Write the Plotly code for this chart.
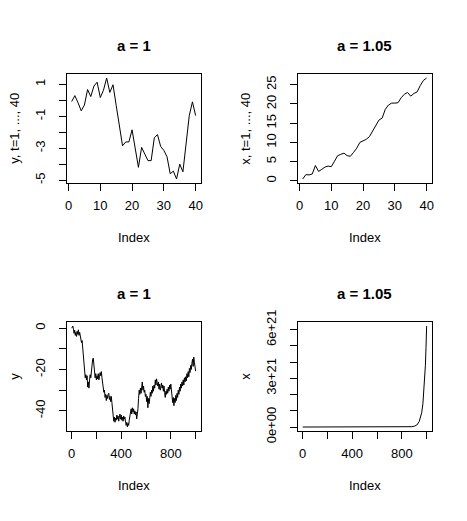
import plotly.graph_objects as go

# ---------------- data ----------------
idx40 = list(range(1, 41))
y40 = [-0.07, 0.30, -0.15, -0.65, -0.29, 0.68, 0.24, 0.90, 1.14, 0.18,
       0.64, 1.40, 0.50, 0.98, -0.31, -1.45, -2.84, -2.60, -2.60, -1.84,
       -3.00, -4.19, -2.94, -3.33, -3.77, -3.77, -2.34, -2.14, -2.88, -3.13,
       -3.53, -4.59, -4.43, -4.92, -3.99, -4.47, -2.74, -0.95, -0.09, -0.95]
x40 = [0.5, 1.64, 1.56, 1.8, 4.0, 2.46, 3.0, 3.6, 3.85, 3.7,
       5.1, 6.56, 6.9, 7.2, 6.56, 6.4, 7.4, 8.5, 10.0, 10.4,
       10.8, 11.5, 12.9, 14.3, 15.8, 16.3, 18.6, 19.7, 20.2, 20.2,
       20.3, 21.6, 22.5, 22.95, 22.0, 22.7, 23.1, 24.75, 26.1, 26.7]

idx1000 = [1] + list(range(5, 1001, 5))
y1000 = [0.0, 0.8, 1.0, -0.5, -2.5, -1.0, -3.5, -2.0, -4.0, -1.5,
         -3.0, -0.8, -3.5, -2.0, -4.5, -5.5, -7.0, -6.0, -10.0, -14.0,
         -17.0, -21.0, -24.0, -22.5, -25.0, -23.0, -28.5, -26.0, -29.0, -25.0,
         -22.5, -24.0, -20.0, -17.5, -15.0, -14.5, -17.0, -20.0, -24.0, -22.0,
         -25.0, -23.0, -24.5, -22.0, -25.0, -23.5, -21.5, -23.0, -21.0, -24.0,
         -26.0, -29.0, -31.0, -30.0, -33.5, -32.0, -35.0, -32.5, -34.0, -32.0,
         -31.5, -34.5, -33.0, -35.5, -33.0, -36.0, -40.0, -42.5, -45.0, -43.0,
         -45.5, -43.5, -44.5, -42.0, -44.0, -42.5, -45.0, -43.0, -41.5, -44.0,
         -42.0, -44.5, -43.0, -45.0, -42.5, -44.0, -43.0, -45.5, -47.0, -45.5,
         -47.8, -46.0, -47.0, -44.5, -43.0, -41.0, -39.0, -41.5, -38.5, -40.5,
         -39.0, -41.5, -40.0, -42.0, -40.5, -43.9, -42.0, -39.0, -34.0, -30.0,
         -32.0, -29.0, -31.5, -28.5, -26.0, -30.0, -28.0, -31.0, -30.0, -33.0,
         -32.0, -35.5, -33.0, -38.5, -34.0, -36.5, -33.5, -31.0, -33.0, -30.0,
         -31.5, -28.0, -30.5, -27.5, -29.0, -25.0, -27.5, -24.5, -26.5, -28.0,
         -26.0, -29.5, -27.0, -30.0, -28.5, -26.5, -29.0, -27.5, -30.5, -28.0,
         -31.0, -33.5, -30.5, -32.0, -29.5, -31.5, -28.5, -30.5, -27.5, -29.5,
         -27.0, -31.0, -33.0, -36.0, -33.5, -37.5, -34.0, -36.0, -32.5, -35.0,
         -31.5, -33.5, -30.0, -32.0, -28.5, -30.5, -27.0, -29.0, -26.0, -28.0,
         -25.0, -27.5, -24.0, -26.0, -23.5, -25.5, -22.0, -24.0, -21.0, -23.5,
         -19.5, -21.5, -18.0, -20.0, -17.0, -15.0, -18.5, -14.0, -16.5, -18.0,
         -20.8]

idx_exp = [1, 100, 200, 300, 400, 500, 600, 700, 800, 850, 880, 900, 920,
           940, 950, 960, 970, 980, 985, 990, 995, 1000]
x_exp = [0, 0, 0, 0, 0, 0, 0, 0, 0, 0.005e21, 0.02e21, 0.05e21, 0.12e21,
         0.33e21, 0.55e21, 0.88e21, 1.43e21, 2.35e21, 3.0e21, 3.8e21, 4.9e21, 6.22e21]

titles = ["a = 1", "a = 1.05", "a = 1", "a = 1.05"]
ylabels = ["y, t=1, ..., 40", "x, t=1, ..., 40", "y", "x"]

ticks_p1_y = [-5, -4, -3, -2, -1, 0, 1]
text_p1_y = ["-5", "", "-3", "", "-1", "", "1"]
ticks_p2_y = [0, 5, 10, 15, 20, 25]
ticks_p3_y = [0, -10, -20, -30, -40]
text_p3_y = ["0", "", "-20", "", "-40"]
ticks_p4_y = [0, 1e21, 2e21, 3e21, 4e21, 5e21, 6e21]
text_p4_y = ["0e+00", "", "", "3e+21", "", "", "6e+21"]
ticks_40_x = [0, 10, 20, 30, 40]
ticks_1000_x = [0, 200, 400, 600, 800, 1000]
text_1000_x = ["0", "", "400", "", "800", ""]

# ---------------- layout helpers ----------------
W, H = 467, 521
FONT = "Liberation Sans, Arial, sans-serif"


def rng(v):
    lo, hi = min(v), max(v)
    p = (hi - lo) * 0.04
    return [lo - p, hi + p]


def px_x(px):
    return px / W


def px_y(py):
    return 1 - py / H


boxes = [  # left, right, top, bottom in page pixels
    (65.3, 200.3, 65.0, 179.3),
    (298.3, 433.3, 65.0, 179.3),
    (65.3, 200.3, 325.0, 439.3),
    (298.3, 433.3, 325.0, 439.3),
]

series = [(idx40, y40), (idx40, x40), (idx1000, y1000), (idx_exp, x_exp)]
xranges = [rng(idx40), rng(idx40), rng(list(range(1, 1001))), rng(list(range(1, 1001)))]
ytick_cfg = [
    (ticks_p1_y, text_p1_y),
    (ticks_p2_y, [str(v) for v in ticks_p2_y]),
    (ticks_p3_y, text_p3_y),
    (ticks_p4_y, text_p4_y),
]
xtick_cfg = [
    (ticks_40_x, [str(v) for v in ticks_40_x]),
    (ticks_40_x, [str(v) for v in ticks_40_x]),
    (ticks_1000_x, text_1000_x),
    (ticks_1000_x, text_1000_x),
]

fig = go.Figure()
layout = dict(
    width=W, height=H,
    margin=dict(l=0, r=0, t=0, b=0),
    paper_bgcolor="white", plot_bgcolor="white",
    showlegend=False,
    font=dict(family=FONT, size=13, color="black"),
)
annotations = []

for i in range(4):
    n = "" if i == 0 else str(i + 1)
    xs, ys = series[i]
    fig.add_trace(go.Scatter(x=xs, y=ys, mode="lines",
                             line=dict(color="black", width=1),
                             xaxis="x" + n, yaxis="y" + n,
                             hoverinfo="skip"))
    l, r, t, b = boxes[i]
    axis_common = dict(showline=True, mirror=True, linecolor="black", linewidth=1,
                       ticks="outside", ticklen=7, tickcolor="black", tickwidth=1,
                       showgrid=False, zeroline=False,
                       tickfont=dict(family=FONT, size=13, color="black"))
    layout["xaxis" + n] = dict(axis_common, domain=[px_x(l), px_x(r)],
                               anchor="y" + n, range=xranges[i],
                               tickmode="array", tickvals=xtick_cfg[i][0],
                               ticktext=xtick_cfg[i][1], ticklabelstandoff=3)
    layout["yaxis" + n] = dict(axis_common, domain=[px_y(b), px_y(t)],
                               anchor="x" + n, range=rng(ys),
                               tickmode="array", tickvals=ytick_cfg[i][0],
                               ticktext=ytick_cfg[i][1], tickangle=-90,
                               ticklabelstandoff=9)
    cx = (l + r) / 2
    cy = (t + b) / 2
    annotations.append(dict(text="<b>" + titles[i] + "</b>", x=px_x(cx), y=px_y(t - 30),
                            xref="paper", yref="paper", showarrow=False,
                            font=dict(family=FONT, size=15, color="black"),
                            xanchor="center", yanchor="middle"))
    annotations.append(dict(text="Index", x=px_x(cx), y=px_y(b + 57),
                            xref="paper", yref="paper", showarrow=False,
                            font=dict(family=FONT, size=13, color="black"),
                            xanchor="center", yanchor="middle"))
    annotations.append(dict(text=ylabels[i], x=px_x(l - 53), y=px_y(cy),
                            xref="paper", yref="paper", showarrow=False,
                            textangle=-90,
                            font=dict(family=FONT, size=13, color="black"),
                            xanchor="center", yanchor="middle"))

layout["annotations"] = annotations
fig.update_layout(**layout)
fig.write_html("out.html",
               config={"displayModeBar": False},
               post_script="document.body.style.margin='0';document.body.style.overflow='hidden';")
